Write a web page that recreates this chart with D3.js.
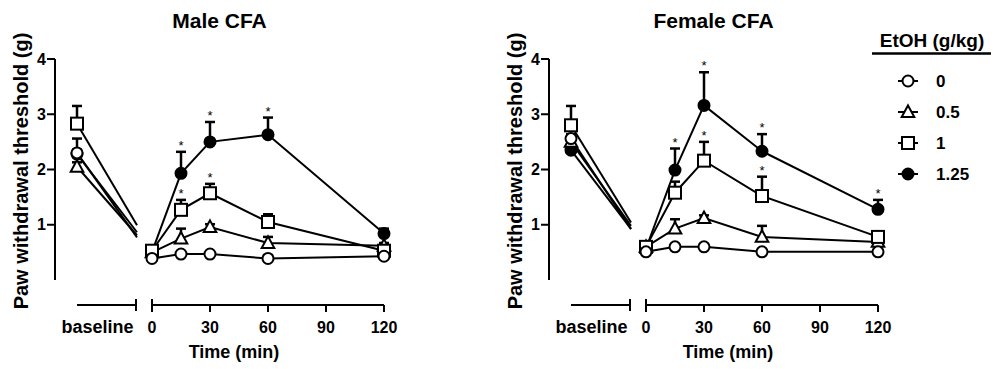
<!DOCTYPE html>
<html>
<head>
<meta charset="utf-8">
<script src="https://cdn.jsdelivr.net/npm/d3@7"></script>
<style>
  html, body { margin: 0; padding: 0; background: #fff; }
  svg { display: block; font-family: "Liberation Sans", Arial, sans-serif; font-weight: bold; }
</style>
</head>
<body>
<div id="chart"></div>
<script>
// data
const times = [0, 15, 30, 60, 120];
const timeTicks = [0, 30, 60, 90, 120];
const yTicks = [1, 2, 3, 4];
const doses = ['0', '0.5', '1', '1.25'];
const shapes = ['circle', 'triangle', 'square', 'filled'];

// male CFA (order: 0, 0.5, 1, 1.25)
const maleBaseline = [2.30, 2.05, 2.83, 2.28];
const maleBaselineSem = [0.26, 0.08, 0.32, 0.08];
const maleMeans = [
  [0.39, 0.47, 0.47, 0.39, 0.43],
  [0.50, 0.75, 0.96, 0.67, 0.62],
  [0.53, 1.27, 1.57, 1.05, 0.53],
  [0.51, 1.93, 2.50, 2.63, 0.84]
];
const maleSem = [
  [0.03, 0.03, 0.03, 0.03, 0.03],
  [0.05, 0.18, 0.05, 0.11, 0.05],
  [0.05, 0.18, 0.17, 0.14, 0.05],
  [0.05, 0.39, 0.36, 0.31, 0.09]
];
const maleStars = [[], [], [15, 30], [15, 30, 60]];

// female CFA
const femaleBaseline = [2.56, 2.50, 2.80, 2.35];
const femaleBaselineSem = [0.08, 0.08, 0.35, 0.08];
const femaleMeans = [
  [0.51, 0.60, 0.60, 0.51, 0.51],
  [0.60, 0.93, 1.12, 0.78, 0.69],
  [0.60, 1.58, 2.16, 1.52, 0.78],
  [0.57, 1.99, 3.16, 2.33, 1.28]
];
const femaleSem = [
  [0.03, 0.03, 0.03, 0.03, 0.03],
  [0.05, 0.17, 0.05, 0.20, 0.05],
  [0.05, 0.20, 0.34, 0.35, 0.05],
  [0.05, 0.39, 0.60, 0.31, 0.17]
];
const femaleStars = [[], [], [30, 60], [15, 30, 60, 120]];

const panels = [
  { title: 'Male CFA', left: 55, baseline: maleBaseline, baselineSem: maleBaselineSem, means: maleMeans, sem: maleSem, stars: maleStars },
  { title: 'Female CFA', left: 549, baseline: femaleBaseline, baselineSem: femaleBaselineSem, means: femaleMeans, sem: femaleSem, stars: femaleStars }
];

const config = {
  width: 995,
  height: 369,
  stroke: 2,
  yTop: 59,
  yBottom: 280,
  axisY: 305,
  timeStart: 97,   // offset of time 0 from y axis
  timeWidth: 232,
  baselineGap: 75, // baseline point left of time 0
  bracketGap: 16,
  marker: 6,
  cap: 5
};

const svg = d3.select('#chart').append('svg')
  .attr('width', config.width)
  .attr('height', config.height);

const y = d3.scaleLinear().domain([0, 4]).range([config.yBottom, config.yTop]);

// marker drawing
function drawMarker(g, shape, cx, cy) {
  const r = config.marker;
  if (shape === 'circle' || shape === 'filled') {
    g.append('circle')
      .attr('cx', cx).attr('cy', cy).attr('r', r - 0.5)
      .attr('fill', shape === 'filled' ? '#000' : '#fff')
      .attr('stroke', '#000').attr('stroke-width', config.stroke);
  } else if (shape === 'square') {
    g.append('rect')
      .attr('x', cx - r).attr('y', cy - r).attr('width', 2 * r).attr('height', 2 * r)
      .attr('fill', '#fff').attr('stroke', '#000').attr('stroke-width', config.stroke);
  } else {
    const h = r * 1.1;
    g.append('path')
      .attr('d', `M${cx},${cy - h}L${cx + r * 1.05},${cy + h * 0.75}L${cx - r * 1.05},${cy + h * 0.75}Z`)
      .attr('fill', '#fff').attr('stroke', '#000').attr('stroke-width', config.stroke)
      .attr('stroke-linejoin', 'miter');
  }
}

function drawErr(g, cx, mean, sem) {
  const y0 = y(mean), y1 = y(mean + sem);
  g.append('line')
    .attr('x1', cx).attr('x2', cx).attr('y1', y0).attr('y2', y1)
    .attr('stroke', '#000').attr('stroke-width', 2.5);
  g.append('line')
    .attr('x1', cx - config.cap).attr('x2', cx + config.cap).attr('y1', y1).attr('y2', y1)
    .attr('stroke', '#000').attr('stroke-width', 2.5);
}

panels.forEach(p => {
  const g = svg.append('g');
  const x = d3.scaleLinear().domain([0, 120])
    .range([p.left + config.timeStart, p.left + config.timeStart + config.timeWidth]);
  const bx = x(0) - config.baselineGap;
  const bEnd = x(0) - config.bracketGap;

  // title
  g.append('text')
    .text(p.title)
    .attr('x', (p.left + x(120)) / 2)
    .attr('y', 28)
    .attr('text-anchor', 'middle')
    .attr('font-size', 21);

  // y axis
  g.append('line')
    .attr('x1', p.left).attr('x2', p.left)
    .attr('y1', y(0)).attr('y2', y(4))
    .attr('stroke', '#000').attr('stroke-width', config.stroke);
  yTicks.forEach(t => {
    g.append('line')
      .attr('x1', p.left - 8).attr('x2', p.left)
      .attr('y1', y(t)).attr('y2', y(t))
      .attr('stroke', '#000').attr('stroke-width', config.stroke);
    g.append('text')
      .text(t)
      .attr('x', p.left - 9)
      .attr('y', y(t))
      .attr('dy', '0.35em')
      .attr('text-anchor', 'end')
      .attr('font-size', 16);
  });
  g.append('text')
    .text('Paw withdrawal threshold (g)')
    .attr('transform', `translate(${p.left - 27},${171}) rotate(-90)`)
    .attr('text-anchor', 'middle')
    .attr('font-size', 20);

  // baseline bracket
  g.append('line')
    .attr('x1', bx).attr('x2', bEnd).attr('y1', config.axisY).attr('y2', config.axisY)
    .attr('stroke', '#000').attr('stroke-width', config.stroke);
  g.append('line')
    .attr('x1', bEnd).attr('x2', bEnd).attr('y1', config.axisY - 6).attr('y2', config.axisY + 6)
    .attr('stroke', '#000').attr('stroke-width', config.stroke);
  g.append('text')
    .text('baseline')
    .attr('x', (bx + bEnd) / 2 - 9)
    .attr('y', config.axisY + 22)
    .attr('dy', '0.35em')
    .attr('text-anchor', 'middle')
    .attr('font-size', 18);

  // time axis
  g.append('line')
    .attr('x1', x(0)).attr('x2', x(120)).attr('y1', config.axisY).attr('y2', config.axisY)
    .attr('stroke', '#000').attr('stroke-width', config.stroke);
  g.append('line')
    .attr('x1', x(0)).attr('x2', x(0)).attr('y1', config.axisY - 6).attr('y2', config.axisY + 6)
    .attr('stroke', '#000').attr('stroke-width', config.stroke);
  timeTicks.forEach(t => {
    g.append('line')
      .attr('x1', x(t)).attr('x2', x(t)).attr('y1', config.axisY).attr('y2', config.axisY + 7)
      .attr('stroke', '#000').attr('stroke-width', config.stroke);
    g.append('text')
      .text(t)
      .attr('x', x(t))
      .attr('y', config.axisY + 22)
      .attr('dy', '0.35em')
      .attr('text-anchor', 'middle')
      .attr('font-size', 16);
  });
  g.append('text')
    .text('Time (min)')
    .attr('x', x(60) - 34)
    .attr('y', config.axisY + 47)
    .attr('dy', '0.35em')
    .attr('text-anchor', 'middle')
    .attr('font-size', 18);

  const line = d3.line().x(d => x(d[0])).y(d => y(d[1]));
  const order = [3, 1, 2, 0];

  // lines
  order.forEach(s => {
    const pts = times.map((t, i) => [t, p.means[s][i]]);
    g.append('path')
      .attr('d', line(pts))
      .attr('fill', 'none')
      .attr('stroke', '#000')
      .attr('stroke-width', config.stroke);
    // baseline to time 0, broken at the bracket end
    const yb = y(p.baseline[s]), y0 = y(p.means[s][0]);
    const f = (bEnd + 1 - bx) / (x(0) - bx);
    g.append('line')
      .attr('x1', bx).attr('y1', yb)
      .attr('x2', bx + f * (x(0) - bx)).attr('y2', yb + f * (y0 - yb))
      .attr('stroke', '#000').attr('stroke-width', config.stroke);
  });

  // error bars + stars
  order.forEach(s => {
    drawErr(g, bx, p.baseline[s], p.baselineSem[s]);
    times.forEach((t, i) => drawErr(g, x(t), p.means[s][i], p.sem[s][i]));
    p.stars[s].forEach(t => {
      const i = times.indexOf(t);
      g.append('text')
        .text('*')
        .attr('x', x(t))
        .attr('y', y(p.means[s][i] + p.sem[s][i]) - 2)
        .attr('text-anchor', 'middle')
        .attr('font-size', 13)
        .attr('font-weight', 'normal');
    });
  });

  // markers
  order.forEach(s => {
    drawMarker(g, shapes[s], bx, y(p.baseline[s]));
    times.forEach((t, i) => drawMarker(g, shapes[s], x(t), y(p.means[s][i])));
  });
});

// legend
const legend = svg.append('g');
legend.append('text')
  .text('EtOH (g/kg)')
  .attr('x', 932)
  .attr('y', 47)
  .attr('text-anchor', 'middle')
  .attr('font-size', 19);
legend.append('line')
  .attr('x1', 872).attr('x2', 991).attr('y1', 53.5).attr('y2', 53.5)
  .attr('stroke', '#000').attr('stroke-width', 2.5);
const legendY = d3.scalePoint().domain(doses).range([81, 174]);
doses.forEach((d, s) => {
  const ly = legendY(d);
  legend.append('line')
    .attr('x1', 898).attr('x2', 918).attr('y1', ly).attr('y2', ly)
    .attr('stroke', '#000').attr('stroke-width', config.stroke);
  drawMarker(legend, shapes[s], 908, ly);
  legend.append('text')
    .text(d)
    .attr('x', 936)
    .attr('y', ly)
    .attr('dy', '0.35em')
    .attr('font-size', 17);
});
</script>
</body>
</html>
